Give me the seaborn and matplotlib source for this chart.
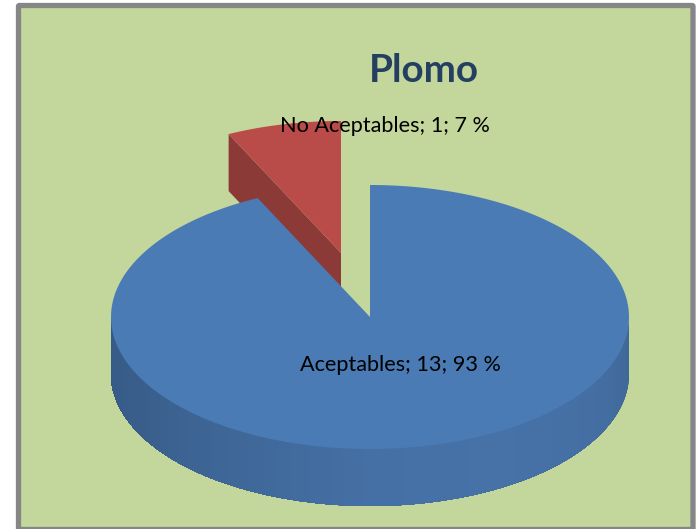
# Load libraries
import numpy as np
import matplotlib
matplotlib.use("Agg")
import matplotlib.pyplot as plt
import seaborn as sns
from matplotlib.patches import FancyBboxPatch, Polygon

# Data
categories = ["Aceptables", "No Aceptables"]
values = [13, 1]
title = "Plomo"

# Colours
bg_color = "#C3D69B"
frame_color = "#868686"
blue_top = "#4A7BB5"
red_top = "#B94C49"
red_side = "#8C3A38"
title_color = "#243F60"
wall_colors = ["#3F6797", "#456FA3", "#4672A8", "#4570A5", "#3F6899", "#3A5F8C", "#375A86"]

sns.set_theme(style="white")
plt.rcParams["font.family"] = ["Lato", "DejaVu Sans"]

fig, ax = plt.subplots(figsize=(6.96, 5.29), dpi=100)
ax.set_position([0, 0, 1, 1])
ax.set_xlim(0, 696)
ax.set_ylim(529, 0)
ax.axis("off")

# Chart area with its grey border
ax.add_patch(FancyBboxPatch((18.5, 5.5), 674.5, 524, boxstyle="round,pad=0,rounding_size=1",
                            fc=bg_color, ec=frame_color, lw=3.8, zorder=0))

# Pie geometry, in pixels of the picture
cx, cy = 370, 317
rx, ry = 259, 132
depth = 57
red_dx, red_dy = -29, -64

total = sum(values)
shares = [v / total for v in values]
blue_end = shares[0] * 2 * np.pi


def rim(t, dx=0, dy=0):
    # t runs clockwise from the top of the pie
    return cx + dx + rx * np.sin(t), cy + dy - ry * np.cos(t)


# Red slice, pulled out of the pie
t_red = np.linspace(blue_end, 2 * np.pi, 40)
xr, yr = rim(t_red, red_dx, red_dy)
apex = (cx + red_dx, cy + red_dy)
wall = [(xr[0], yr[0]), (xr[0], yr[0] + depth), (apex[0], apex[1] + depth), apex]
ax.add_patch(Polygon(wall, fc=red_side, ec="none", zorder=2))
ax.add_patch(Polygon([apex] + list(zip(xr, yr)), fc=red_top, ec="none", zorder=3))

# Blue slice: each shade paints the wall from its angle onwards, so no seams show
t_wall = np.linspace(np.pi / 2, 3 * np.pi / 2, 121)
strips = sns.blend_palette(wall_colors, len(t_wall) - 1)
for i, col in enumerate(strips):
    xs, ys = rim(t_wall[i:])
    outline = list(zip(xs, ys)) + list(zip(xs[::-1], ys[::-1] + depth))
    ax.add_patch(Polygon(outline, fc=col, ec="none", zorder=4))
t_blue = np.linspace(0, blue_end, 300)
xb, yb = rim(t_blue)
ax.add_patch(Polygon([(cx, cy)] + list(zip(xb, yb)), fc=blue_top, ec="none", zorder=5))

# Texts
ax.text(424, 71, title, fontsize=27.8, fontweight="bold", color=title_color,
        ha="center", va="center", zorder=6)
ax.text(400, 365, f"{categories[0]}; {values[0]}; {shares[0] * 100:.0f} %", fontsize=15.6,
        color="black", ha="center", va="center", zorder=6)
ax.text(385, 126, f"{categories[1]}; {values[1]}; {shares[1] * 100:.0f} %", fontsize=15.6,
        color="black", ha="center", va="center", zorder=6)

fig.savefig("out.png", dpi=100, facecolor="white")
